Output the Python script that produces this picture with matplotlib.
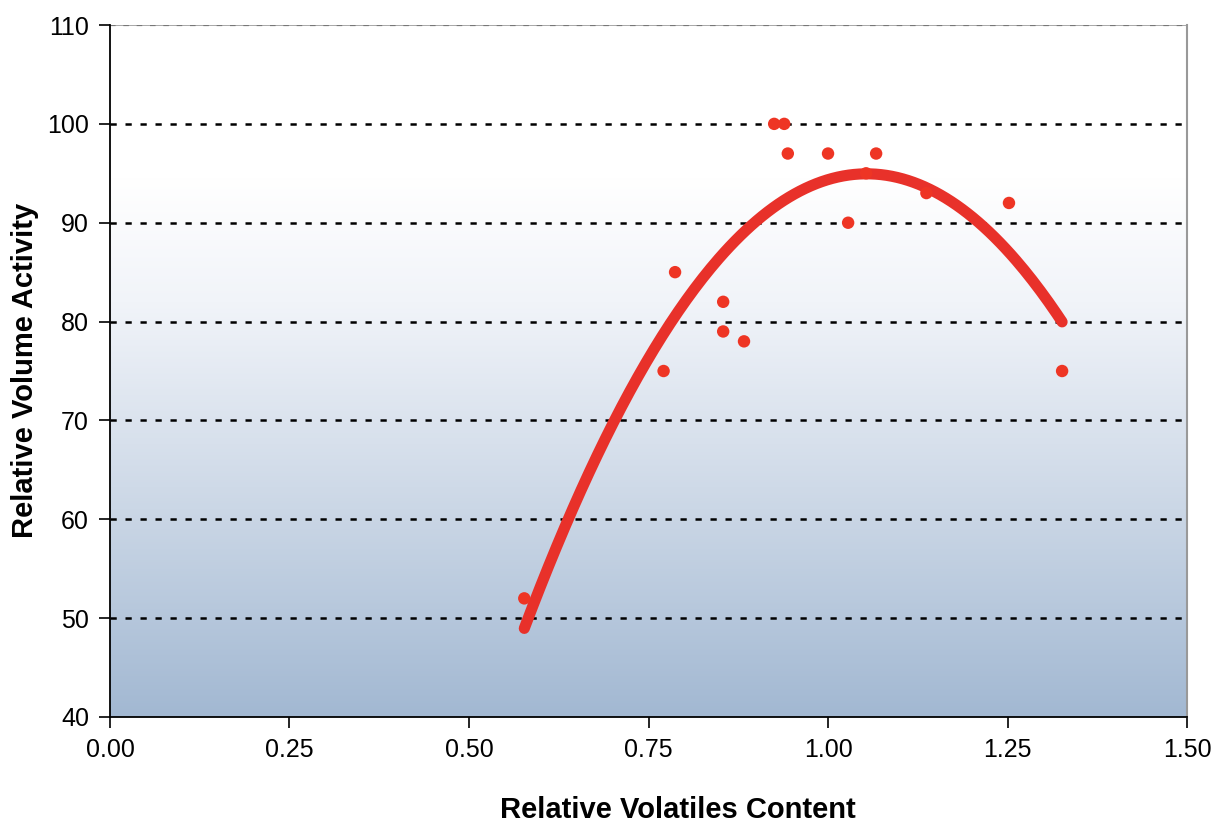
import matplotlib.pyplot as plt
import numpy as np
from matplotlib.colors import LinearSegmentedColormap

plt.rcParams["font.family"] = ["Liberation Sans", "DejaVu Sans"]

# dati
volatiles = [0.577, 0.771, 0.787, 0.854, 0.854, 0.883, 0.925, 0.939, 0.944,
             1.000, 1.028, 1.053, 1.067, 1.137, 1.252, 1.326]
activity = [52, 75, 85, 82, 79, 78, 100, 100, 97, 97, 90, 95, 97, 93, 92, 75]

x_ticks = [0.00, 0.25, 0.50, 0.75, 1.00, 1.25, 1.50]
y_ticks = [40, 50, 60, 70, 80, 90, 100, 110]

red = "#e8312a"

fig = plt.figure(figsize=(12.15, 8.23), dpi=100)
ax = fig.add_axes([0.0905, 0.1288, 0.8865, 0.8408])

# sfondo sfumato (bianco in alto, azzurro in basso)
cmap = LinearSegmentedColormap.from_list(
    "bg", [(0.0, "#a2b8d2"), (0.3, "#cbd7e6"), (0.6, "#f1f4f9"),
           (0.78, "#ffffff"), (1.0, "#ffffff")])
grad = np.linspace(0, 1, 256).reshape(-1, 1)
ax.imshow(grad, cmap=cmap, aspect="auto", origin="lower",
          extent=[0, 1.5, 40, 110], zorder=0)

# griglia tratteggiata
for y in y_ticks[1:-1]:
    ax.axhline(y, color="black", linestyle=(0, (2.5, 3.5)), linewidth=1.8, zorder=1)
ax.axhline(110, color="#999999", linestyle="-", linewidth=1.2, zorder=1)
ax.axhline(110, color="#777777", linestyle=(0, (2.5, 3.5)), linewidth=1.6, zorder=1)

# linea di tendenza polinomiale (grado 2)
coef = np.polyfit(volatiles, activity, 2)
xs = np.linspace(min(volatiles), max(volatiles), 200)
ax.plot(xs, np.polyval(coef, xs), color=red, linewidth=8,
        solid_capstyle="round", zorder=2)

ax.scatter(volatiles, activity, s=80, color="#ee3524", zorder=3, edgecolors="none")

ax.set_xlim(0, 1.5)
ax.set_ylim(40, 110)
ax.set_xticks(x_ticks)
ax.set_xticklabels([f"{v:.2f}" for v in x_ticks])
ax.set_yticks(y_ticks)
ax.tick_params(labelsize=18, length=8, width=1.2, direction="out", pad=7)

for side in ["left", "bottom"]:
    ax.spines[side].set_color("black")
    ax.spines[side].set_linewidth(1.3)
ax.spines["right"].set_color("#999999")
ax.spines["right"].set_linewidth(1.5)
ax.spines["top"].set_visible(False)

# etichette degli assi
fig.text(678 / 1215, 1 - 810 / 823, "Relative Volatiles Content", fontsize=21,
         fontweight="bold", ha="center", va="center")
fig.text(25 / 1215, 1 - 370 / 823, "Relative Volume Activity", fontsize=21,
         fontweight="bold", ha="center", va="center", rotation=90)

fig.savefig("out.png", dpi=100)
